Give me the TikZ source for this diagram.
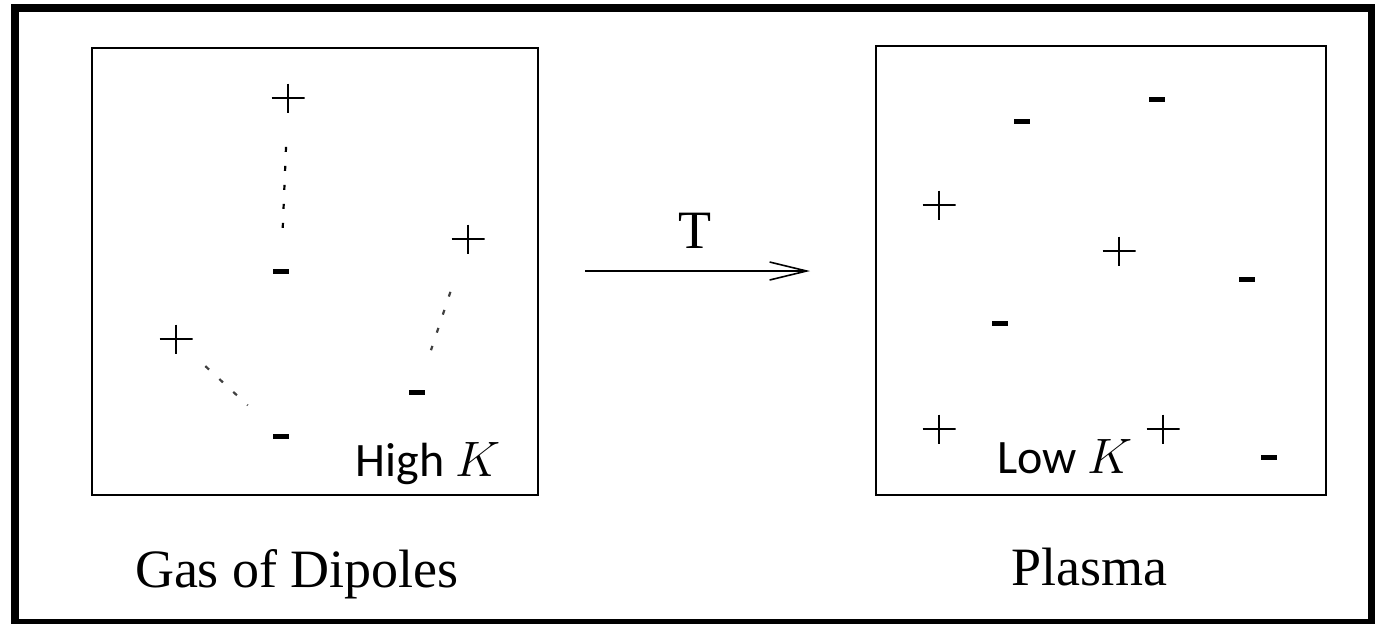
\documentclass[tikz,border=0pt]{standalone}
\usepackage{fontspec}
\setmainfont{Liberation Serif}
\newfontfamily\calfont{Carlito}
\usetikzlibrary{arrows.meta}

\begin{document}
\begin{tikzpicture}[x=0.5pt, y=-0.5pt,
    poscharge/.style={inner sep=0pt, minimum width=16.5pt, minimum height=14.5pt,
      path picture={\draw[line width=0.7pt]
        (path picture bounding box.west) -- (path picture bounding box.east)
        (path picture bounding box.north) -- (path picture bounding box.south);}},
    negcharge/.style={fill=black, inner sep=0pt, minimum width=8pt, minimum height=2.5pt},
    bond/.style={line width=1.1pt, dash pattern=on 2.5pt off 7pt},
    caption/.style={font=\fontsize{27}{32}\selectfont, anchor=base},
    klabel/.style={font=\calfont\fontsize{24}{29}\selectfont, anchor=base}]
    \useasboundingbox (0,0) rectangle (1375,623);
    \draw[line width=4pt] (15,8) rectangle (1372,623);

    % gas of dipoles
    \draw[line width=1pt] (92,48) rectangle (538,495);
    \node[poscharge] (p1) at (288,98) {};
    \node[negcharge] (m1) at (281,271) {};
    \node[poscharge] (p2) at (176,339) {};
    \node[negcharge] (m2) at (281,436) {};
    \node[poscharge] (p3) at (468,239) {};
    \node[negcharge] (m3) at (417,392) {};
    \draw[bond, shorten <=17pt, shorten >=19pt] (p1) -- (m1);
    \draw[bond, draw=black!75, shorten <=9pt, shorten >=20.5pt] (p2) -- (m2);
    \draw[bond, draw=black!75, shorten <=20pt, shorten >=20.5pt] (p3) -- (m3);
    \node[klabel] (highk) at (428,476) {High $K$};

    % plasma
    \draw[line width=1pt] (876,46) rectangle (1326,495);
    \node[negcharge] (n1) at (1022,121) {};
    \node[negcharge] (n2) at (1157,99) {};
    \node[negcharge] (n3) at (1247,279) {};
    \node[negcharge] (n4) at (1000,323) {};
    \node[negcharge] (n5) at (1269,457) {};
    \node[poscharge] (q1) at (939,205) {};
    \node[poscharge] (q2) at (1119,251) {};
    \node[poscharge] (q3) at (939,429) {};
    \node[poscharge] (q4) at (1163,429) {};
    \node[klabel] (lowk) at (1065,473) {Low $K$};

    % heating
    \coordinate (heatL) at (585,271);
    \coordinate (heatR) at (810,271);
    \draw[line width=0.8pt, -{Straight Barb[length=18.5pt, width=9pt]}] (heatL) -- (heatR);
    \node[caption] (temp) at (695,248) {T};

    \node[caption] (gas) at (297,587) {Gas of Dipoles};
    \node[caption] (plasma) at (1089,585) {Plasma};
  \end{tikzpicture}
\end{document}
